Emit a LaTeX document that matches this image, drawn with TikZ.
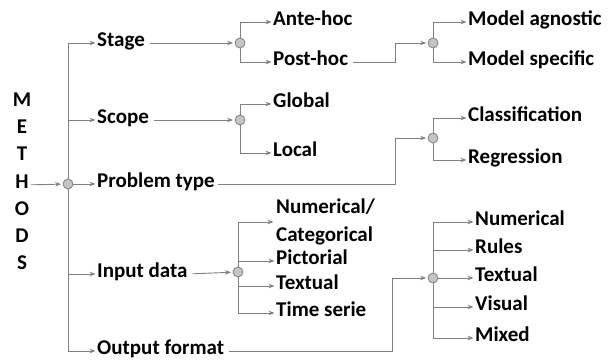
\documentclass[tikz,border=0pt]{standalone}
\usepackage{fontspec}
\setmainfont{Carlito}
\usetikzlibrary{arrows.meta}
\definecolor{ln}{HTML}{808080}
\definecolor{cf}{HTML}{C4C4C4}
\begin{document}
\begin{tikzpicture}[x=1pt,y=-1pt,
  lbl/.style={anchor=west,inner sep=0pt,text height=0.64em,text depth=0pt,font=\fontsize{21}{27}\selectfont\bfseries},
  let/.style={inner sep=0pt,text height=0.64em,text depth=0pt,font=\fontsize{21}{27}\selectfont\bfseries},
  dot/.style={circle,draw=ln,fill=cf,minimum size=10pt,inner sep=0pt,line width=0.8pt},
  arr/.style={draw=ln,line width=0.9pt,-{Stealth[length=6pt,width=4.5pt]},shorten >=1.5pt},
  ln/.style={draw=ln,line width=0.9pt}]
\useasboundingbox (0,0) rectangle (610,363);
% METHODS
\node[let] (lM) at (22,103) {M};
\node[let] (lE) at (22,130) {E};
\node[let] (lT) at (22,157) {T};
\node[let] (lH) at (22,185) {H};
\node[let] (lO) at (22,212) {O};
\node[let] (lD) at (22,239) {D};
\node[let] (lS) at (22,266) {S};
% level 1
\node[dot] (m) at (68,184) {};
\node[lbl] (stage) at (97,43) {Stage};
\node[lbl] (scope) at (97,120) {Scope};
\node[lbl] (prob) at (97,184) {Problem type};
\node[lbl] (input) at (97,274) {Input data};
\node[lbl] (output) at (97,351) {Output format};
% level 2
\node[dot] (c1) at (240,43) {};
\node[dot] (c2) at (240,120) {};
\node[dot] (c4) at (238,272) {};
\node[lbl] (ante) at (273,22) {Ante-hoc};
\node[lbl] (post) at (273,62) {Post-hoc};
\node[lbl] (glob) at (273,104) {Global};
\node[lbl] (loc) at (273,153) {Local};
\node[anchor=west,inner sep=0pt,align=left,font=\fontsize{21}{28}\selectfont\bfseries] (numcat) at (276,222) {Numerical/\\Categorical};
\node[lbl] (pict) at (276,261) {Pictorial};
\node[lbl] (text1) at (276,286) {Textual};
\node[lbl] (time) at (276,313) {Time serie};
% level 3
\coordinate (k1) at (395,43);
\coordinate (k2) at (395,138);
\coordinate (k3) at (392,278);
\node[dot] (c3) at (433,43) {};
\node[dot] (c6) at (433,138) {};
\node[dot] (c5) at (433,278) {};
\node[lbl] (agn) at (468,22) {Model agnostic};
\node[lbl] (spec) at (468,62) {Model specific};
\node[lbl] (clas) at (468,118) {Classification};
\node[lbl] (regr) at (468,160) {Regression};
\node[lbl] (onum) at (475,222) {Numerical};
\node[lbl] (rules) at (475,250) {Rules};
\node[lbl] (otext) at (475,278) {Textual};
\node[lbl] (vis) at (475,307) {Visual};
\node[lbl] (mix) at (475,338) {Mixed};
% connectors
\draw[arr,shorten <=2pt] (lH) -- (m);
\draw[arr] (m.north) |- (stage.west);
\draw[arr] (m.north) |- (scope.west);
\draw[arr] (m) -- (prob.west);
\draw[arr] (m.south) |- (input.west);
\draw[arr] (m.south) |- (output.west);
\draw[arr,shorten <=5pt] (stage.east) -- (c1);
\draw[arr,shorten <=5pt] (scope.east) -- (c2);
\draw[arr,shorten <=5pt] (input.east) -- (c4);
\draw[arr] (c1.north) |- (ante.west);
\draw[arr] (c1.south) |- (post.west);
\draw[arr] (c2.north) |- (glob.west);
\draw[arr] (c2.south) |- (loc.west);
\draw[arr] (c4.north) |- ([xshift=-1pt]numcat.west);
\draw[arr] (c4.north) |- (pict.west);
\draw[arr] (c4.south) |- (text1.west);
\draw[arr] (c4.south) |- (time.west);
\draw[arr,shorten <=5pt] (post.east) -| (k1) -- (c3);
\draw[arr,shorten <=3pt] (prob.east) -| (k2) -- (c6);
\draw[arr,shorten <=5pt] (output.east) -| (k3) -- (c5);
\draw[arr] (c3.north) |- (agn.west);
\draw[arr] (c3.south) |- (spec.west);
\draw[arr] (c6.north) |- (clas.west);
\draw[arr] (c6.south) |- (regr.west);
\draw[arr] (c5.north) |- (onum.west);
\draw[arr] (c5.north) |- (rules.west);
\draw[arr] (c5) -- (otext.west);
\draw[arr] (c5.south) |- (vis.west);
\draw[arr] (c5.south) |- (mix.west);
\end{tikzpicture}
\end{document}
